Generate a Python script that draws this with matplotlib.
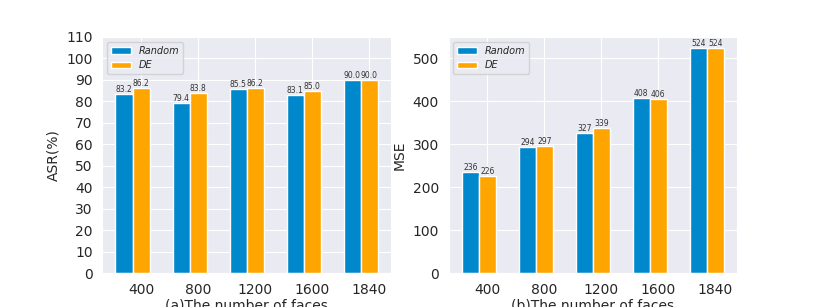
import matplotlib
matplotlib.use('Agg')
import matplotlib.pyplot as plt
import numpy as np
import seaborn as sns

faces = ['400', '800', '1200', '1600', '1840']
asr_random = [83.2, 79.4, 85.5, 83.1, 90.0]
asr_de = [86.2, 83.8, 86.2, 85.0, 90.0]
mse_random = [236, 294, 327, 408, 524]
mse_de = [226, 297, 339, 406, 524]

sns.set_style('darkgrid')
plt.rcParams['font.family'] = ['DejaVu Sans']

blue = '#0088CC'
orange = '#FFA500'
w = 0.3
x = np.arange(len(faces))

fig, (ax1, ax2) = plt.subplots(1, 2, figsize=(8.19, 3.07), dpi=100)


def draw(ax, a, b, fmt, ylabel, xlabel):
    r1 = ax.bar(x, a, w, color=blue, label='Random')
    r2 = ax.bar(x + w, b, w, color=orange, label='DE')
    for rects, vals in ((r1, a), (r2, b)):
        for r, v in zip(rects, vals):
            ax.text(r.get_x() + r.get_width() / 2, r.get_height(), fmt.format(v),
                    ha='center', va='bottom', fontsize=5.5, color='#333333')
    ax.set_xticks(x + w)
    ax.set_xticklabels(faces, fontsize=10)
    ax.tick_params(axis='y', labelsize=10)
    ax.set_ylabel(ylabel, fontsize=10)
    ax.set_xlabel(xlabel, fontsize=10, labelpad=1)
    leg = ax.legend(loc='upper left', fontsize=7)
    for t in leg.get_texts():
        t.set_fontstyle('italic')


draw(ax1, asr_random, asr_de, '{:.1f}', 'ASR(%)', '(a)The number of faces')
ax1.set_ylim(0, 110)
ax1.set_yticks(range(0, 111, 10))

draw(ax2, mse_random, mse_de, '{:d}', 'MSE', '(b)The number of faces')

plt.savefig('out.png', dpi=100)
